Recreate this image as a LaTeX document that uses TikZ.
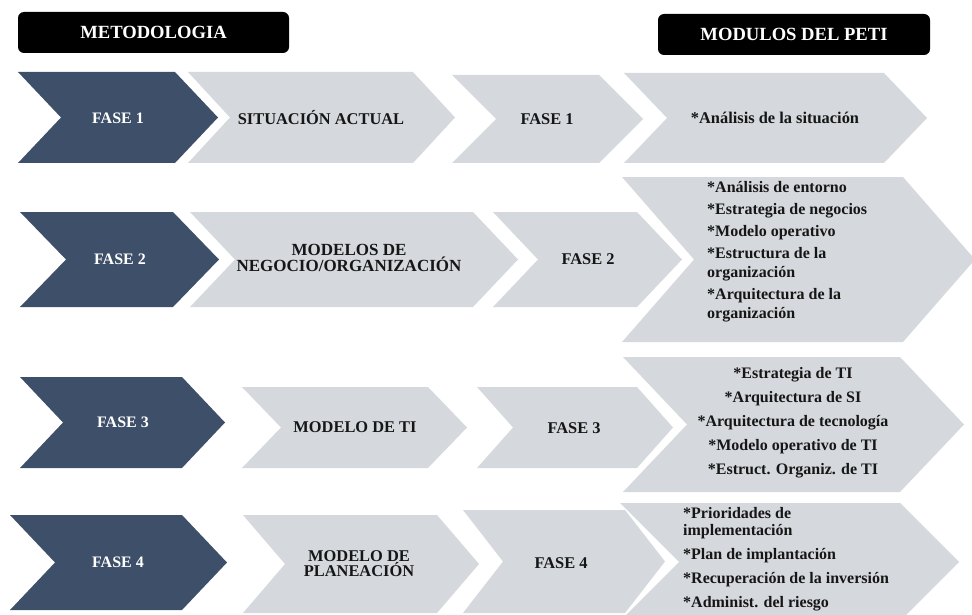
\documentclass[tikz,border=0pt]{standalone}
\usepackage{fontspec}
\setmainfont{Liberation Serif}

\definecolor{azulfase}{HTML}{3E4F69}
\definecolor{grisfase}{HTML}{D5D8DC}
\definecolor{textofase}{HTML}{161616}

% flecha: estilo, izquierda, derecha, arriba, abajo, profundidad
\newcommand{\flecha}[6]{%
  \fill[#1] (#2,#4) -- (#3,#4) -- ({#3+#6},{(#4+#5)/2}) -- (#3,#5) -- (#2,#5) -- ({#2+#6},{(#4+#5)/2}) -- cycle;}

\begin{document}
\begin{tikzpicture}[x=1pt,y=-1pt,
    oscura/.style={fill=azulfase},
    clara/.style={fill=grisfase},
    cabecera/.style={fill=black,text=white,rounded corners=6pt,font=\bfseries\fontsize{18.6}{20}\selectfont},
    txtosc/.style={text=white,inner sep=0pt,font=\bfseries\fontsize{16}{18}\selectfont},
    txtcla/.style={text=textofase,inner sep=0pt,align=center,font=\bfseries\fontsize{16.4}{13}\selectfont},
    lista/.style={text=textofase,inner sep=0pt,font=\bfseries\fontsize{16}{19}\selectfont}]
    \useasboundingbox (0,0) rectangle (972,615);

    \node[cabecera,minimum width=271pt,minimum height=41pt] (met) at (153.5,32.5) {METODOLOGIA};
    \node[cabecera,minimum width=272pt,minimum height=41pt] (mod) at (794,34.5) {MODULOS DEL PETI};

    % fase 1
    \flecha{oscura}{18}{175}{72}{163}{43}
    \flecha{clara}{188}{413}{72}{163}{42}
    \flecha{clara}{452}{599}{75}{163}{44}
    \flecha{clara}{624}{884}{73}{163}{43}
    \node[txtosc] (f1) at (118,118) {FASE 1};
    \node[txtcla] (m1) at (321,118) {SITUACIÓN ACTUAL};
    \node[txtcla] (g1) at (547,119) {FASE 1};
    \node[txtcla] (p1) at (775,118) {*Análisis de la situación};

    % fase 2
    \flecha{oscura}{20}{173}{212}{307}{46}
    \flecha{clara}{190}{473}{212}{307}{45}
    \flecha{clara}{493}{637}{212}{307}{45}
    \flecha{clara}{622}{903}{177}{342}{72}
    \node[txtosc] (f2) at (120,259) {FASE 2};
    \node[txtcla,font=\bfseries\fontsize{17}{13.5}\selectfont] (m2) at (349,258) {MODELOS DE\\NEGOCIO/ORGANIZACIÓN};
    \node[txtcla] (g2) at (588,259) {FASE 2};
    \node[lista,align=left,anchor=west] (p2) at (707,252) {*Análisis de entorno\\[3pt]*Estrategia de negocios\\[3pt]*Modelo operativo\\[3pt]*Estructura de la\\organización\\[3pt]*Arquitectura de la\\organización};

    % fase 3
    \flecha{oscura}{20}{182}{377}{468}{43}
    \flecha{clara}{242}{428}{387}{468}{39}
    \flecha{clara}{477}{637}{387}{468}{36}
    \flecha{clara}{623}{900}{357}{492}{64}
    \node[txtosc] (f3) at (123,422) {FASE 3};
    \node[txtcla] (m3) at (355,427) {MODELO DE TI};
    \node[txtcla] (g3) at (574,428) {FASE 3};
    \node[lista,align=center,font=\bfseries\fontsize{16}{24}\selectfont] (p3) at (793,423) {*Estrategia de TI\\*Arquitectura de SI\\*Arquitectura de tecnología\\*Modelo operativo de TI\\*Estruct. Organiz. de TI};

    % fase 4
    \flecha{oscura}{10}{182}{515}{610}{45}
    \flecha{clara}{243}{437}{515}{613}{42}
    \flecha{clara}{463}{625}{510}{613}{40}
    \flecha{clara}{620}{900}{503}{621}{59}
    \node[txtosc] (f4) at (118,562) {FASE 4};
    \node[txtcla,font=\bfseries\fontsize{16.4}{15}\selectfont] (m4) at (359,564) {MODELO DE\\PLANEACIÓN};
    \node[txtcla] (g4) at (561,563) {FASE 4};
    \node[lista,align=left,anchor=west,font=\bfseries\fontsize{16}{17}\selectfont] (p4) at (683,559) {*Prioridades de\\implementación\\[7pt]*Plan de implantación\\[7pt]*Recuperación de la inversión\\[7pt]*Administ. del riesgo};
\end{tikzpicture}
\end{document}
